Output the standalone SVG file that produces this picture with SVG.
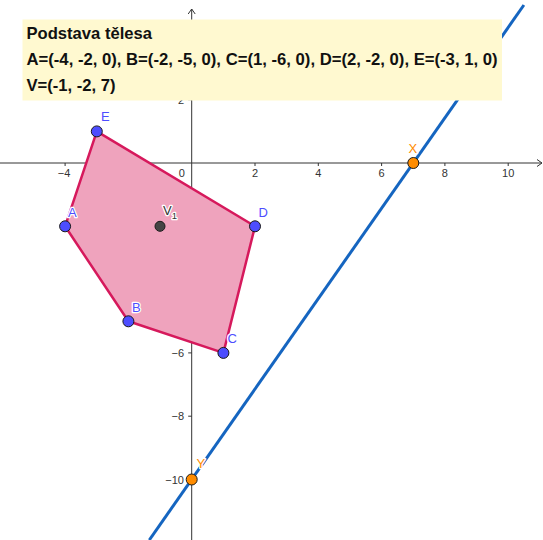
<svg xmlns="http://www.w3.org/2000/svg" width="543" height="540" viewBox="0 0 543 540">
<style>
.ax{stroke:#333;stroke-width:1;fill:none}
.tk{font-family:"Liberation Sans",Arial,sans-serif;font-size:11px;fill:#333}
.lbl{font-family:"Liberation Sans",Arial,sans-serif;font-size:13px;stroke:#fff;stroke-width:2.5px;paint-order:stroke;stroke-linejoin:round}
.bl{fill:#4d4dff}
.or{fill:#ff8c00}
.dk{fill:#333}
.pt{stroke:#1a1a1a;stroke-width:1}
.hd{font-family:"Liberation Sans",Arial,sans-serif;font-size:16.6px;font-weight:bold;fill:#111}
</style>
<rect width="543" height="540" fill="#fff"/>
<g id="axes">
<line class="ax" x1="0" y1="163" x2="542" y2="163"/>
<polyline class="ax" points="537,159.5 542,163 537,166.5"/>
<line class="ax" x1="191.7" y1="9" x2="191.7" y2="540"/>
<polyline class="ax" points="188.2,14 191.7,9 195.2,14"/>
<g class="ax">
<line x1="65.1" y1="163" x2="65.1" y2="166"/>
<line x1="128.4" y1="163" x2="128.4" y2="166"/>
<line x1="255" y1="163" x2="255" y2="166"/>
<line x1="318.3" y1="163" x2="318.3" y2="166"/>
<line x1="381.6" y1="163" x2="381.6" y2="166"/>
<line x1="444.9" y1="163" x2="444.9" y2="166"/>
<line x1="508.2" y1="163" x2="508.2" y2="166"/>
<line x1="188.2" y1="99.7" x2="191.7" y2="99.7"/>
<line x1="188.2" y1="226.3" x2="191.7" y2="226.3"/>
<line x1="188.2" y1="289.6" x2="191.7" y2="289.6"/>
<line x1="188.2" y1="352.9" x2="191.7" y2="352.9"/>
<line x1="188.2" y1="416.2" x2="191.7" y2="416.2"/>
<line x1="188.2" y1="479.5" x2="191.7" y2="479.5"/>
</g>
<g class="tk" text-anchor="middle">
<text x="64" y="177">−4</text>
<text x="127.3" y="177">−2</text>
<text x="181.7" y="177">0</text>
<text x="255" y="177">2</text>
<text x="318.3" y="177">4</text>
<text x="381.6" y="177">6</text>
<text x="444.9" y="177">8</text>
<text x="508.2" y="177">10</text>
</g>
<g class="tk" text-anchor="end">
<text x="184" y="103.7">2</text>
<text x="184" y="231">−2</text>
<text x="184" y="293.6">−4</text>
<text x="184" y="356.9">−6</text>
<text x="184" y="420.2">−8</text>
<text x="184" y="483.5">−10</text>
</g>
</g>
<g id="connectors">
<line id="line-XY" x1="523.9" y1="5" x2="149.3" y2="540" stroke="#1565c0" stroke-width="3"/>
</g>
<g id="base">
<polygon points="65.1,226.3 128.4,321.3 223.4,352.9 255,226.3 96.8,131.4" fill="#efa3bd" stroke="#d6195c" stroke-width="2.5" stroke-linejoin="round"/>
</g>
<g id="node-A"><circle class="pt bl" cx="65.1" cy="226.3" r="5.5"/><text class="lbl bl" x="68" y="217">A</text></g>
<g id="node-B"><circle class="pt bl" cx="128.4" cy="321.3" r="5.5"/><text class="lbl bl" x="132" y="311.5">B</text></g>
<g id="node-C"><circle class="pt bl" cx="223.4" cy="352.9" r="5.5"/><text class="lbl bl" x="227.5" y="343">C</text></g>
<g id="node-D"><circle class="pt bl" cx="255" cy="226.3" r="5.5"/><text class="lbl bl" x="258.5" y="216.5">D</text></g>
<g id="node-E"><circle class="pt bl" cx="96.8" cy="131.4" r="5.5"/><text class="lbl bl" x="101" y="121">E</text></g>
<g id="node-V1"><circle class="pt" fill="#444" cx="160" cy="226.3" r="5"/><text class="lbl dk" x="163" y="214.5">V<tspan font-size="9.5" dy="4">1</tspan></text></g>
<g id="node-X"><circle class="pt or" cx="413.3" cy="163" r="5.5"/><text class="lbl or" x="408.5" y="153.3">X</text></g>
<g id="node-Y"><circle class="pt or" cx="191.7" cy="479.5" r="5.5"/><text class="lbl or" x="196.5" y="468.3">Y</text></g>
<g id="info">
<rect x="22.5" y="19.5" width="479.5" height="81" fill="#fff9d0"/>
<text class="hd" x="26.5" y="38.5">Podstava tělesa</text>
<text class="hd" x="26.5" y="65" textLength="471" lengthAdjust="spacingAndGlyphs">A=(-4, -2, 0), B=(-2, -5, 0), C=(1, -6, 0), D=(2, -2, 0), E=(-3, 1, 0)</text>
<text class="hd" x="26.5" y="91">V=(-1, -2, 7)</text>
</g>
</svg>
